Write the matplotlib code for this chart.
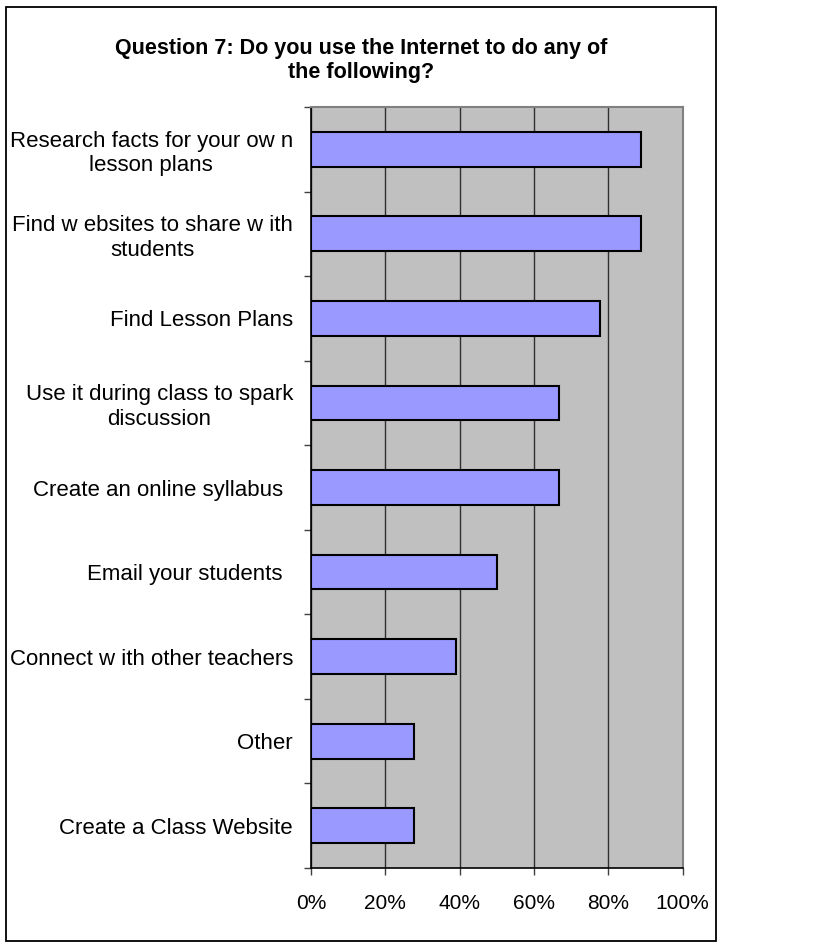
import matplotlib
matplotlib.use("Agg")
import matplotlib.pyplot as plt
from matplotlib.patches import Rectangle
from matplotlib.ticker import FixedLocator, FuncFormatter
from matplotlib.transforms import ScaledTranslation

plt.rcParams['font.family'] = ['Liberation Sans', 'DejaVu Sans']

# Survey responses (share of respondents, %)
categories = [
    "Research facts for your ow n\nlesson plans",
    "Find w ebsites to share w ith\nstudents",
    "Find Lesson Plans",
    "Use it during class to spark\ndiscussion",
    "Create an online syllabus",
    "Email your students",
    "Connect w ith other teachers",
    "Other",
    "Create a Class Website",
]
percent = [88.9, 88.9, 77.8, 66.7, 66.7, 50.0, 38.9, 27.8, 27.8]
x_ticks = [0, 20, 40, 60, 80, 100]
title = "Question 7: Do you use the Internet to do any of\nthe following?"

W, H, DPI = 822, 951, 100
fig = plt.figure(figsize=(W / DPI, H / DPI), dpi=DPI)
fig.patch.set_facecolor("white")

# outer chart frame
fig.add_artist(Rectangle((6 / W, 1 - 941 / H), (716 - 6) / W, (941 - 7) / H,
                         transform=fig.transFigure, fill=False,
                         edgecolor="black", linewidth=1.3))

left, right, top, bottom = 311, 682.7, 107, 868
ax = fig.add_axes([left / W, 1 - bottom / H, (right - left) / W, (bottom - top) / H])
ax.set_facecolor("#C0C0C0")

n = len(categories)
ypos = list(range(n))
ax.barh(ypos, percent, height=0.41, color="#9999FF", edgecolor="black",
        linewidth=1.5, zorder=3)

ax.set_xlim(0, 100)
ax.set_ylim(n - 0.5, -0.5)

ax.set_xticks(x_ticks)
ax.xaxis.set_major_formatter(FuncFormatter(lambda v, p: f"{v:.0f}%"))
ax.tick_params(axis="x", direction="out", length=5, width=1, color="#404040",
               labelsize=15, pad=13.5)
ax.grid(axis="x", color="#303030", linewidth=1, zorder=1)

ax.set_yticks(ypos)
ax.set_yticklabels(categories, fontsize=16, multialignment="center",
                   linespacing=1.22)
ax.yaxis.set_minor_locator(FixedLocator([i + 0.5 for i in range(-1, n)]))
ax.tick_params(axis="y", which="major", length=0, pad=13)
ax.tick_params(axis="y", which="minor", direction="out", length=5, width=1,
               color="#404040")

# single-line labels sitting slightly further left
for lab in ax.get_yticklabels():
    if lab.get_text() in ("Create an online syllabus", "Email your students"):
        lab.set_transform(lab.get_transform() +
                          ScaledTranslation(-10 / DPI, 0, fig.dpi_scale_trans))

for side in ("left", "bottom"):
    ax.spines[side].set_color("black")
    ax.spines[side].set_linewidth(1.2)
for side in ("top", "right"):
    ax.spines[side].set_color("#808080")
    ax.spines[side].set_linewidth(1.5)

fig.text(361 / W, 1 - 60.5 / H, title, ha="center", va="center",
         fontsize=15.5, fontweight="bold", linespacing=1.22)

fig.savefig("out.png", dpi=DPI)
